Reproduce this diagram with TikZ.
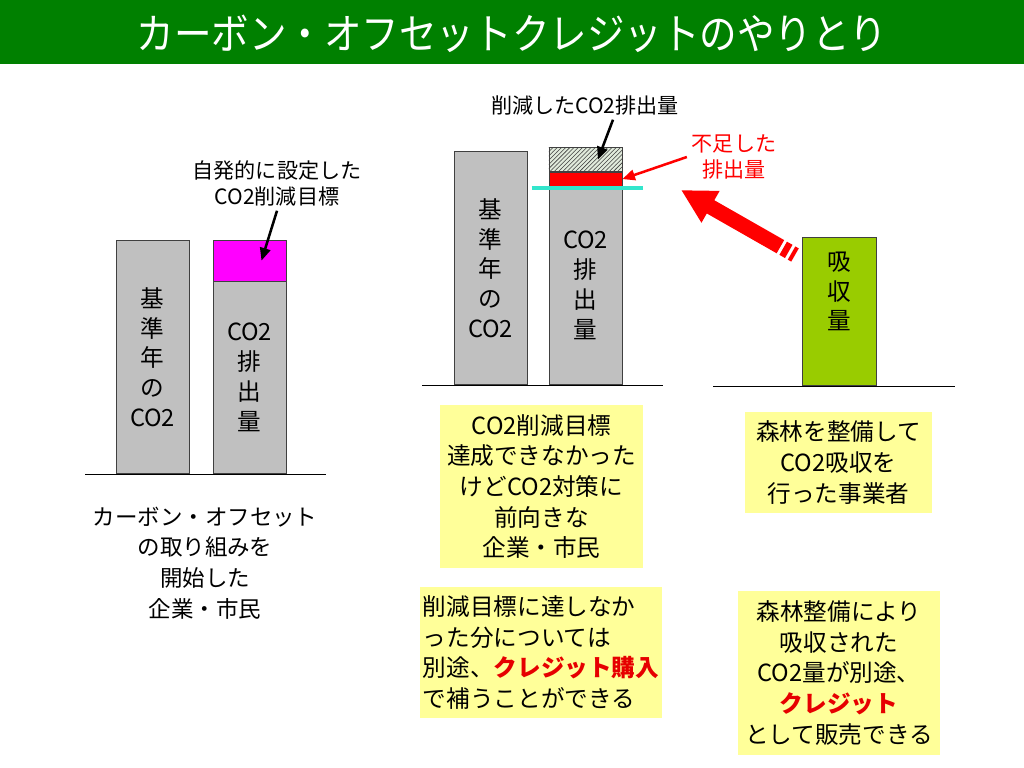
\documentclass[tikz,border=0pt]{standalone}
\usepackage{fontspec}
\setmainfont{Noto Sans CJK JP}
\usetikzlibrary{arrows.meta,patterns,positioning}
\definecolor{titlegreen}{RGB}{0,128,0}
\definecolor{memoyellow}{RGB}{255,255,153}
\definecolor{barfill}{RGB}{192,192,192}
\definecolor{forest}{RGB}{153,204,0}
\definecolor{limitcyan}{RGB}{51,230,204}
\definecolor{hatchbg}{RGB}{225,235,220}
\definecolor{creditred}{RGB}{230,0,0}
\definecolor{goalpink}{RGB}{255,0,255}
\tikzset{
  block/.style={draw=black!75, anchor=south, minimum width=1.825cm, inner sep=0pt},
  bar/.style={block, fill=barfill, align=center, font=\fontsize{16.8}{21.3}\selectfont},
  memo/.style={fill=memoyellow, inner sep=0pt, align=center, font=\fontsize{16.8}{21.8}\selectfont},
  note/.style={align=center, font=\fontsize{15}{18.5}\selectfont},
  pointer/.style={line width=1.8pt, -{Triangle[length=9pt,width=7.5pt]}},
  bigarrow/.style={line width=0.38cm, red, dash pattern=on 0.1cm off 0.08cm on 0.16cm off 0.08cm on 10cm,
    -{Triangle[length=0.85cm,width=0.85cm]}},
}
\begin{document}
\begin{tikzpicture}[x=0.025cm,y=-0.025cm]
        \useasboundingbox (0,0) rectangle (1024,768);
        \fill[titlegreen] (0,0) rectangle (1024,64);
        \draw (512,34) node (title) [text=white, font=\fontsize{30}{32}\selectfont] {\scalebox{0.89}[1]{カーボン・オフセットクレジットのやりとり}};

        \draw (152.5,474) node (base1) [bar, minimum height=5.825cm] {基\\準\\年\\の\\CO2};
        \draw (249.5,474) node (emit1) [bar, minimum height=4.8cm] {CO2\\排\\出\\量};
        \draw (emit1.north) node (goal1) [block, fill=goalpink, minimum height=1.025cm] {};
        \draw (85,474) -- (326,474);
        \draw (277,183) node (goaltxt) [note] {自発的に設定した\\CO2削減目標};
        \draw[pointer] (goaltxt.south) -- ([xshift=0.3cm]goal1.center);
        \draw (205,563) node (starter) [align=center, font=\fontsize{16}{21.8}\selectfont] {カーボン・オフセット\\の取り組みを\\開始した\\企業・市民};

        \draw (490.5,385) node (base2) [bar, minimum height=5.825cm] {基\\準\\年\\の\\CO2};
        \draw (585.5,385) node (emit2) [bar, minimum height=4.95cm] {CO2\\排\\出\\量};
        \draw (emit2.north) node (short2) [block, fill=red, minimum height=0.35cm] {};
        \draw (short2.north) node (cut2) [block, fill=hatchbg, postaction={pattern=north east lines, pattern color=black!75}, minimum height=0.6cm] {};
        \draw[line width=3pt, limitcyan] ([shift={(-0.425cm,-0.05cm)}]emit2.north west) -- ([shift={(0.525cm,-0.05cm)}]emit2.north east);
        \draw (422,385) -- (663,385);
        \draw (585,105) node (cuttxt) [note] {削減したCO2排出量};
        \draw[pointer] ([xshift=0.7cm]cuttxt.south) -- ([xshift=0.31cm]cut2.center);
        \draw (734,157) node (shorttxt) [note, text=red] {不足した\\排出量};
        \draw[pointer, red] (shorttxt.west) -- (short2.east);

        \draw (839,386) node (sink) [bar, fill=forest, minimum width=1.85cm, minimum height=3.7cm] {吸\\収\\量\\[0.3cm]};
        \draw (713,386) -- (955,386);
        \coordinate (tail) at (795,255);
        \coordinate (tip) at (681,190);
        \draw[bigarrow] (tail) -- (tip);

        \draw (541.5,486.5) node (buyer) [memo, minimum width=5.075cm, minimum height=4.075cm] {CO2削減目標\\達成できなかった\\けどCO2対策に\\前向きな\\企業・市民};
        \draw (541,652.5) node (buy) [memo, align=left, minimum width=6.05cm, minimum height=3.275cm] {削減目標に達しなか\\った分については\\別途、\textcolor{creditred}{\bfseries クレジット購入}\\で補うことができる};
        \draw (838.5,462.5) node (seller) [memo, minimum width=4.675cm, minimum height=2.525cm] {森林を整備して\\CO2吸収を\\行った事業者};
        \draw (839,673) node (sell) [memo, minimum width=5.05cm, minimum height=4.1cm] {森林整備により\\吸収された\\CO2量が別途、\\\textcolor{creditred}{\bfseries クレジット}\\として販売できる};
    \end{tikzpicture}
\end{document}
